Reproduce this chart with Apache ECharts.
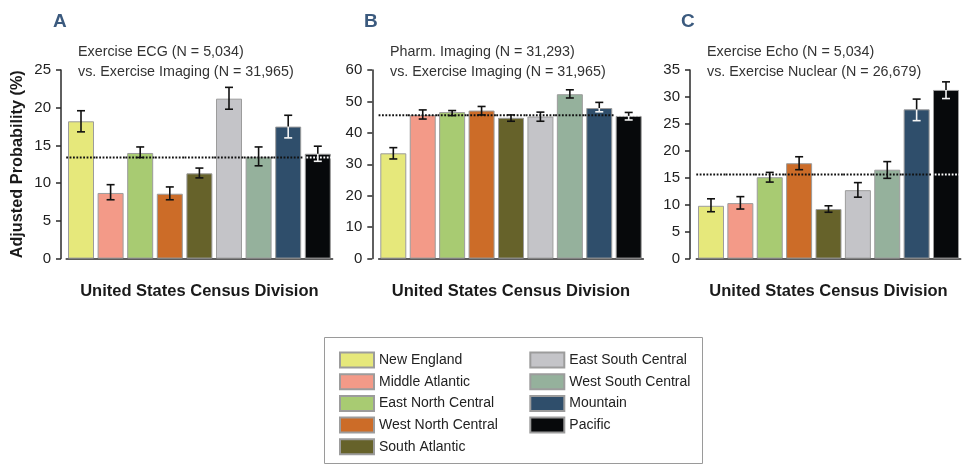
<!DOCTYPE html>
<html>
<head>
<meta charset="utf-8">
<script src="https://cdn.jsdelivr.net/npm/echarts@6/dist/echarts.min.js"></script>
<style>
html,body{margin:0;padding:0;background:#fff;}
#chart{width:963px;height:464px;}
</style>
</head>
<body>
<div id="chart"></div>
<script>
// ---- data ----
const categories = ['New England','Middle Atlantic','East North Central','West North Central','South Atlantic','East South Central','West South Central','Mountain','Pacific'];

const valuesA = [18.2, 8.7, 14.0, 8.6, 11.3, 21.2, 13.5, 17.5, 13.9];
const lowA    = [16.8, 7.8, 13.4, 7.8, 10.7, 19.8, 12.3, 16.0, 12.9];
const highA   = [19.6, 9.8, 14.8, 9.5, 12.0, 22.7, 14.8, 19.0, 14.9];
const refA = 13.4;

const valuesB = [33.5, 45.7, 46.6, 47.1, 44.8, 45.2, 52.3, 47.9, 45.4];
const lowB    = [31.7, 44.4, 45.5, 45.7, 43.7, 43.7, 51.1, 46.7, 44.1];
const highB   = [35.3, 47.3, 47.1, 48.4, 45.7, 46.6, 53.7, 49.7, 46.5];
const refB = 45.6;

const valuesC = [9.8, 10.3, 15.1, 17.7, 9.2, 12.7, 16.5, 27.7, 31.3];
const lowC    = [8.7, 9.2, 14.2, 16.5, 8.6, 11.4, 14.9, 25.6, 29.7];
const highC   = [11.1, 11.5, 16.0, 18.9, 9.8, 14.1, 18.0, 29.6, 32.8];
const refC = 15.6;

const yTicksA = {min: 0, max: 25, interval: 5};
const yTicksB = {min: 0, max: 60, interval: 10};
const yTicksC = {min: 0, max: 35, interval: 5};

const panelLetters = ['A', 'B', 'C'];
const panelSubtitles = [
  'Exercise ECG (N = 5,034)\nvs. Exercise Imaging (N = 31,965)',
  'Pharm. Imaging (N = 31,293)\nvs. Exercise Imaging (N = 31,965)',
  'Exercise Echo (N = 5,034)\nvs. Exercise Nuclear (N = 26,679)'
];
const yAxisName = 'Adjusted Probability (%)';
const xAxisName = 'United States Census Division';

// ---- styles ----
const palette = ['#e6e87b','#f39a88','#a8cb72','#cc6c28','#66622a','#c4c4c8','#95b19c','#2f4e6b','#07090b'];
const whiteErrIdx = [7, 8];      // error bar drawn white inside these bars
const whiteRefIdx = [8];         // reference line drawn white across these bars
const FONT = '"Liberation Sans", Arial, Helvetica, sans-serif';

const panels = [
  {values: valuesA, low: lowA, high: highA, ref: refA, y: yTicksA, left: 66.2, width: 266.4, offset: 5.2, letterX: 53, subX: 78},
  {values: valuesB, low: lowB, high: highB, ref: refB, y: yTicksB, left: 378.6, width: 264.8, offset: 6.3, letterX: 364, subX: 390},
  {values: valuesC, low: lowC, high: highC, ref: refC, y: yTicksC, left: 696.3, width: 264.4, offset: 6.3, letterX: 681, subX: 707}
];

const grids = [], xAxes = [], yAxes = [], series = [], titles = [];
panels.forEach((p, pi) => {
  grids.push({left: p.left, width: p.width, top: 70, height: 188.6, containLabel: false});
  xAxes.push({
    type: 'category', gridIndex: pi, data: categories,
    axisLine: {lineStyle: {color: '#2a2a2a', width: 1.5}},
    axisTick: {alignWithLabel: true, length: 5, lineStyle: {color: '#2a2a2a', width: 1.5}},
    axisLabel: {show: false},
    name: xAxisName, nameLocation: 'middle', nameGap: 24,
    nameTextStyle: {fontFamily: FONT, fontSize: 16.5, fontWeight: 'bold', color: '#1a1a1a'}
  });
  yAxes.push({
    type: 'value', gridIndex: pi, min: p.y.min, max: p.y.max, interval: p.y.interval,
    offset: p.offset,
    axisLine: {show: true, lineStyle: {color: '#2a2a2a', width: 1.5}},
    axisTick: {show: true, length: 5, lineStyle: {color: '#2a2a2a', width: 1.5}},
    splitLine: {show: false},
    axisLabel: {fontFamily: FONT, fontSize: 15, color: '#222', margin: 10},
    name: pi === 0 ? yAxisName : '', nameLocation: 'middle', nameGap: 35, nameRotate: 90,
    nameTextStyle: {fontFamily: FONT, fontSize: 16.3, fontWeight: 'bold', color: '#1a1a1a'}
  });
  titles.push({
    text: panelLetters[pi], left: p.letterX, top: 12, padding: 0,
    textStyle: {fontFamily: FONT, fontSize: 19, fontWeight: 'bold', color: '#3b5a7e'}
  });
  titles.push({
    text: panelSubtitles[pi], left: p.subX, top: 42, padding: 0,
    textStyle: {fontFamily: FONT, fontSize: 14.3, fontWeight: 'normal', color: '#333', lineHeight: 20}
  });

  categories.forEach((name, ci) => {
    series.push({
      type: 'bar', name: name, xAxisIndex: pi, yAxisIndex: pi,
      data: p.values.map((v, j) => j === ci ? v : '-'),
      barWidth: 26, barGap: '-100%',
      itemStyle: {color: palette[ci], borderColor: '#9c9c9c', borderWidth: 1},
      emphasis: {disabled: true}, z: 2
    });
  });

  // reference line
  series.push({
    type: 'custom', xAxisIndex: pi, yAxisIndex: pi, z: 3, silent: true,
    data: categories.map((c, i) => [i, p.ref]),
    renderItem: function (params, api) {
      const i = api.value(0);
      const pt = api.coord([i, api.value(1)]);
      const band = api.size([1, 0])[0];
      return {
        type: 'line',
        shape: {x1: pt[0] - band / 2, y1: pt[1], x2: pt[0] + band / 2, y2: pt[1]},
        style: {stroke: whiteRefIdx.indexOf(i) >= 0 ? '#ffffff' : '#111111', lineWidth: 2, lineDash: [1.8, 1.6]}
      };
    }
  });

  // error bars
  series.push({
    type: 'custom', xAxisIndex: pi, yAxisIndex: pi, z: 4, silent: true,
    data: categories.map((c, i) => [i, p.low[i], p.high[i], p.values[i]]),
    renderItem: function (params, api) {
      const i = api.value(0);
      const lo = api.coord([i, api.value(1)]);
      const hi = api.coord([i, api.value(2)]);
      const top = api.coord([i, api.value(3)]);
      const x = lo[0], cap = 4;
      const white = whiteErrIdx.indexOf(i) >= 0;
      const blk = '#111111', wht = '#f4f4f4';
      const children = [];
      const seg = (y1, y2, col) => children.push({type: 'line', shape: {x1: x, y1: y1, x2: x, y2: y2}, style: {stroke: col, lineWidth: 1.6}});
      const capL = (y, col) => children.push({type: 'line', shape: {x1: x - cap, y1: y, x2: x + cap, y2: y}, style: {stroke: col, lineWidth: 1.6}});
      if (white) {
        const split = Math.max(hi[1], top[1]);
        seg(lo[1], split, wht);
        if (hi[1] < top[1]) seg(top[1], hi[1], blk);
        capL(lo[1], lo[1] > top[1] ? wht : blk);
        capL(hi[1], hi[1] > top[1] ? wht : blk);
      } else {
        seg(lo[1], hi[1], blk);
        capL(lo[1], blk);
        capL(hi[1], blk);
      }
      return {type: 'group', children: children};
    }
  });
});

const legendCommon = {
  orient: 'vertical', itemWidth: 34, itemHeight: 15, itemGap: 4.7, icon: 'rect',
  padding: 0, height: 111,
  selectedMode: true,
  textStyle: {fontFamily: FONT, fontSize: 14, lineHeight: 15, color: '#222'}
};

const option = {
  animation: false,
  backgroundColor: '#ffffff',
  title: titles,
  grid: grids,
  xAxis: xAxes,
  yAxis: yAxes,
  legend: [
    Object.assign({}, legendCommon, {data: categories.slice(0, 5), left: 339, top: 351.5}),
    Object.assign({}, legendCommon, {data: categories.slice(5), left: 529.3, top: 351.5})
  ],
  graphic: [{
    type: 'rect', left: 324, top: 337, z: -1, silent: true,
    shape: {width: 378, height: 126},
    style: {fill: '#ffffff', stroke: '#9a9a9a', lineWidth: 1}
  }],
  series: series
};

const chart = echarts.init(document.getElementById('chart'), null, {renderer: 'canvas'});
chart.setOption(option);
</script>
</body>
</html>
